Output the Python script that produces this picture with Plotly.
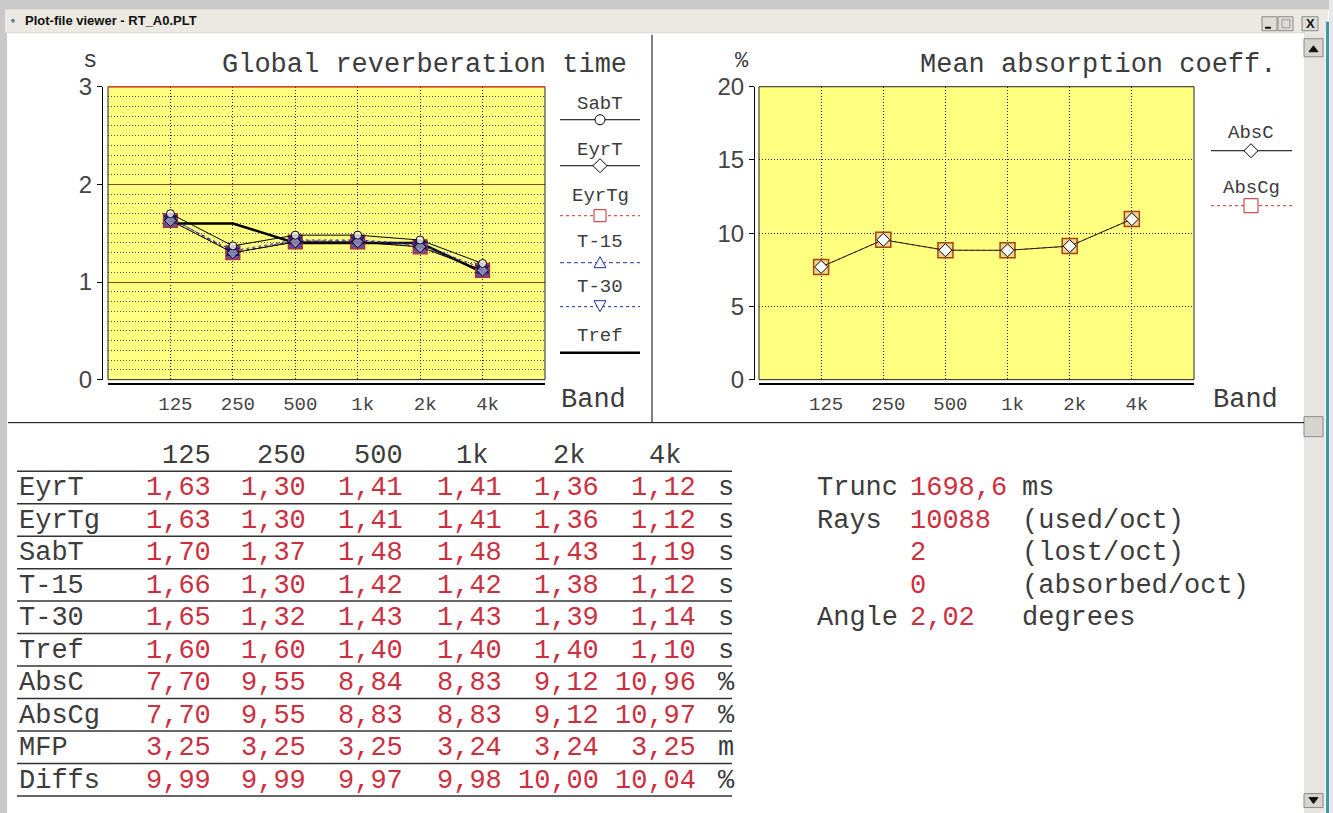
import plotly.graph_objects as go

W, H = 1333, 813

# ---------------- data ----------------
bands = ["125", "250", "500", "1k", "2k", "4k"]
sabt = [1.70, 1.37, 1.48, 1.48, 1.43, 1.19]
eyrt = [1.63, 1.30, 1.41, 1.41, 1.36, 1.12]
eyrtg = [1.63, 1.30, 1.41, 1.41, 1.36, 1.12]
t15 = [1.66, 1.30, 1.42, 1.42, 1.38, 1.12]
t30 = [1.65, 1.32, 1.43, 1.43, 1.39, 1.14]
tref = [1.60, 1.60, 1.40, 1.40, 1.40, 1.10]
absc = [7.70, 9.55, 8.84, 8.83, 9.12, 10.96]
abscg = [7.70, 9.55, 8.83, 8.83, 9.12, 10.97]
mfp = [3.25, 3.25, 3.25, 3.24, 3.24, 3.25]
diffs = [9.99, 9.99, 9.97, 9.98, 10.00, 10.04]

row_names = ["EyrT", "EyrTg", "SabT", "T-15", "T-30", "Tref", "AbsC", "AbsCg", "MFP", "Diffs"]
row_series = [eyrt, eyrtg, sabt, t15, t30, tref, absc, abscg, mfp, diffs]
row_units = ["s", "s", "s", "s", "s", "s", "%", "%", "m", "%"]

info_labels = ["Trunc", "Rays", "", "", "Angle"]
info_values = ["1698,6", "10088", "2", "0", "2,02"]
info_units = ["ms", "(used/oct)", "(lost/oct)", "(absorbed/oct)", "degrees"]

window_title = "Plot-file viewer - RT_A0.PLT"

# ---------------- helpers ----------------
MONO = "Liberation Mono, Courier New, monospace"
SANS = "Liberation Sans, Arial, sans-serif"
GRAY = "#3c3c3c"
RED = "#cc3040"

# the captured page appears slightly squeezed vertically; map target pixels
VS, VOFF = 0.967, 12.25


def fx(x):
    return x / W


def fy(y):
    return 1 - ((y - VOFF) / VS) / H


shapes = []
annots = []


def rect(x0, y0, x1, y1, fill, line=None, lw=0, layer="below"):
    shapes.append(dict(type="rect", xref="paper", yref="paper",
                       x0=fx(x0), x1=fx(x1), y0=fy(y1), y1=fy(y0),
                       fillcolor=fill, line=dict(color=line or fill, width=lw),
                       layer=layer))


def seg(x0, y0, x1, y1, color, w=1, dash="solid", layer="above"):
    shapes.append(dict(type="line", xref="paper", yref="paper",
                       x0=fx(x0), x1=fx(x1), y0=fy(y0), y1=fy(y1),
                       line=dict(color=color, width=w, dash=dash), layer=layer))


def poly(pts, fill, line, lw=1):
    p = "M " + " L ".join(f"{fx(a):.5f},{fy(b):.5f}" for a, b in pts) + " Z"
    shapes.append(dict(type="path", xref="paper", yref="paper", path=p,
                       fillcolor=fill, line=dict(color=line, width=lw), layer="above"))


def text(x, y, s, size=27, color=GRAY, family=MONO, xa="left", ya="middle"):
    annots.append(dict(x=fx(x), y=fy(y), xref="paper", yref="paper", text=s,
                       showarrow=False, xanchor=xa, yanchor=ya,
                       font=dict(family=family, size=size, color=color)))


def fmt(v, nd=2):
    return f"{v:.{nd}f}".replace(".", ",")


# ---------------- window chrome ----------------
rect(0, -20, W, 8, "#c9c9c9")
rect(0, -20, 7, H + 20, "#c9c9c9")
rect(5, 8, 1328, 31, "#ebe9e1")
seg(5, 31, 1305, 31, "#d8d6ce", 1, layer="below")
text(23, 19, "<b>" + window_title + "</b>", 13, "#111", SANS)
shapes.append(dict(type="circle", xref="paper", yref="paper", x0=fx(11), x1=fx(15),
                   y0=fy(21), y1=fy(17), fillcolor="#5a8a9a", line=dict(width=0)))
for bx0, bx1 in [(1262, 1277), (1278, 1293), (1302, 1318)]:
    rect(bx0, 15, bx1, 29, "#dedcd6", "#8a8a8a", 1)
seg(1265, 26, 1271, 26, "#111", 2)
rect(1282, 18, 1290, 26, "rgba(0,0,0,0)", "#999", 1, layer="above")
text(1310, 22, "<b>X</b>", 13, "#111", SANS, "center")
# scrollbar
rect(1304, 31, 1325, H + 20, "#e7e5e0")
rect(1304, 37, 1323, 55, "#d6d4ce", "#8a8a8a", 1)
poly([(1309, 50), (1318, 50), (1313.5, 44)], "#111", "#111")
rect(1304, 415, 1323, 435, "#d6d4ce", "#8a8a8a", 1)
rect(1304, 792, 1323, 806, "#d6d4ce", "#8a8a8a", 1)
poly([(1309, 796), (1318, 796), (1313.5, 802)], "#111", "#111")
rect(1326, 20, 1329, H + 20, "#3c9aa5")
rect(1329, -20, W, H + 20, "#e8e8e8")

# separators
seg(652, 33, 652, 421, "#000", 1)
seg(8, 421, 1304, 421, "#000", 1)

# ---------------- plots ----------------
fig = go.Figure()

fig.add_trace(go.Scatter(x=bands, y=tref, mode="lines", line=dict(color="#000", width=2.5),
                         xaxis="x", yaxis="y", hoverinfo="skip"))
fig.add_trace(go.Scatter(x=bands, y=eyrtg, mode="lines+markers",
                         line=dict(color="#d03030", width=1, dash="dot"),
                         marker=dict(symbol="square", size=14, color="#6a4c9c",
                                     line=dict(color="#c02828", width=1.2)),
                         xaxis="x", yaxis="y", hoverinfo="skip"))
fig.add_trace(go.Scatter(x=bands, y=t15, mode="lines+markers",
                         line=dict(color="#2030a0", width=1, dash="4px,3px"),
                         marker=dict(symbol="triangle-up", size=11, color="#3a2ca0",
                                     line=dict(color="#1a1a80", width=1)),
                         xaxis="x", yaxis="y", hoverinfo="skip"))
fig.add_trace(go.Scatter(x=bands, y=t30, mode="lines+markers",
                         line=dict(color="#2030a0", width=1, dash="dot"),
                         marker=dict(symbol="triangle-down", size=11, color="#2f2290",
                                     line=dict(color="#1a1a80", width=1)),
                         xaxis="x", yaxis="y", hoverinfo="skip"))
fig.add_trace(go.Scatter(x=bands, y=eyrt, mode="lines+markers",
                         line=dict(color="#000", width=1),
                         marker=dict(symbol="diamond", size=9, color="rgba(255,255,255,0.45)",
                                     line=dict(color="#000", width=1)),
                         xaxis="x", yaxis="y", hoverinfo="skip"))
fig.add_trace(go.Scatter(x=bands, y=sabt, mode="lines+markers",
                         line=dict(color="#000", width=1),
                         marker=dict(symbol="circle", size=8, color="rgba(255,255,255,0.75)",
                                     line=dict(color="#000", width=1)),
                         xaxis="x", yaxis="y", hoverinfo="skip"))

fig.add_trace(go.Scatter(x=bands, y=abscg, mode="lines+markers",
                         line=dict(color="#c03020", width=1, dash="dot"),
                         marker=dict(symbol="square", size=15, color="#ecd890",
                                     line=dict(color="#a8440c", width=1.5)),
                         xaxis="x2", yaxis="y2", hoverinfo="skip"))
fig.add_trace(go.Scatter(x=bands, y=absc, mode="lines+markers",
                         line=dict(color="#2a1a10", width=1),
                         marker=dict(symbol="diamond", size=10, color="#fff",
                                     line=dict(color="#000", width=1)),
                         xaxis="x2", yaxis="y2", hoverinfo="skip"))

xcommon = dict(type="category", range=[-1, 6], anchor="free", position=fy(382),
               showline=True, linecolor="#000", linewidth=2, ticks="",
               showgrid=True, gridcolor="#222", griddash="1px,2px", gridwidth=1,
               tickfont=dict(family=MONO, size=19, color="#444"),
               ticklabelshift=5, ticklabelstandoff=3, fixedrange=True)

fig.update_layout(
    width=W, height=H, margin=dict(l=0, r=0, t=0, b=0),
    paper_bgcolor="#ffffff", plot_bgcolor="#ffff80", showlegend=False,
    xaxis=dict(domain=[fx(108), fx(545)], **xcommon),
    xaxis2=dict(domain=[fx(759), fx(1194)], **xcommon),
    yaxis=dict(domain=[fy(378), fy(85)], range=[0, 3], anchor="free", position=fx(102),
               tick0=0, dtick=1, showline=True, linecolor="#000", linewidth=1,
               ticks="outside", ticklen=5, tickcolor="#000",
               tickfont=dict(family=SANS, size=24, color="#444"),
               showgrid=True, gridcolor="#8a4514", gridwidth=1, zeroline=False,
               minor=dict(tick0=0, dtick=0.1, showgrid=True, gridcolor="#505050",
                          griddash="1px,2px", gridwidth=1, ticks=""),
               fixedrange=True),
    yaxis2=dict(domain=[fy(378), fy(85)], range=[0, 20], anchor="free", position=fx(754),
                tick0=0, dtick=5, showline=True, linecolor="#000", linewidth=1,
                ticks="outside", ticklen=5, tickcolor="#000",
                tickfont=dict(family=SANS, size=24, color="#444"),
                showgrid=True, gridcolor="#222", griddash="1px,2px", gridwidth=1,
                zeroline=False, fixedrange=True),
)

for xr, yr in [("x", "y"), ("x2", "y2")]:
    shapes.append(dict(type="rect", xref=f"{xr} domain", yref=f"{yr} domain",
                       x0=0, x1=1, y0=0, y1=1, line=dict(color="#222", width=1),
                       fillcolor="rgba(0,0,0,0)", layer="above"))
shapes.append(dict(type="line", xref="x domain", yref="y domain", x0=0, x1=1, y0=1, y1=1,
                   line=dict(color="#e0452a", width=1.5), layer="above"))

# titles / units
text(220, 63, "Global reverberation time", 27)
text(90, 74, "s", 24, xa="center", ya="bottom")
text(593, 398, "Band", 27, xa="center")
text(918, 63, "Mean absorption coeff.", 27)
text(742, 74, "%", 22, xa="center", ya="bottom")
text(1245, 398, "Band", 27, xa="center")

# left legend
LX0, LX1, LXC = 560, 640, 600
leg_left = [("SabT", 102, 118), ("EyrT", 148, 164), ("EyrTg", 194, 214),
            ("T-15", 240, 261), ("T-30", 285, 305), ("Tref", 334, 351)]
for name, ty, ly in leg_left:
    text(LXC, ty, name, 19, xa="center")
seg(LX0, 118, LX1, 118, "#000", 1)
shapes.append(dict(type="circle", xref="paper", yref="paper", x0=fx(LXC - 5), x1=fx(LXC + 5),
                   y0=fy(123), y1=fy(113), fillcolor="#fff", line=dict(color="#000", width=1),
                   layer="above"))
seg(LX0, 164, LX1, 164, "#000", 1)
poly([(LXC, 157), (LXC + 7, 164), (LXC, 171), (LXC - 7, 164)], "#fff", "#000")
seg(LX0, 214, LX1, 214, "#d03030", 1, "dot")
rect(LXC - 6, 208, LXC + 6, 220, "#fff", "#c02828", 1, layer="above")
seg(LX0, 261, LX1, 261, "#2030a0", 1, "4px,3px")
poly([(LXC - 6, 266), (LXC + 6, 266), (LXC, 255)], "#fff", "#2030a0")
seg(LX0, 305, LX1, 305, "#2030a0", 1, "dot")
poly([(LXC - 6, 299), (LXC + 6, 299), (LXC, 310)], "#fff", "#2030a0")
seg(LX0, 351, LX1, 351, "#000", 2.5)

# right legend
RX0, RX1, RXC = 1211, 1292, 1251
text(RXC, 131, "AbsC", 19, xa="center")
seg(RX0, 149, RX1, 149, "#000", 1)
poly([(RXC, 142), (RXC + 7, 149), (RXC, 156), (RXC - 7, 149)], "#fff", "#000")
text(RXC, 186, "AbsCg", 19, xa="center")
seg(RX0, 204, RX1, 204, "#d03030", 1, "dot")
rect(RXC - 7, 197, RXC + 7, 211, "#fff", "#c02828", 1, layer="above")

# ---------------- table ----------------
col_right = [213, 308, 405, 504, 601, 698]
hdr_right = [213, 308, 405, 490, 587, 683]
ROW0, DY = 454, 32.5
for i, b in enumerate(bands):
    text(hdr_right[i], ROW0, b, 27, xa="right")
seg(17, ROW0 + 15.5, 732, ROW0 + 15.5, "#333", 1.5)
for r, (name, vals, unit) in enumerate(zip(row_names, row_series, row_units)):
    y = ROW0 + DY * (r + 1)
    text(17, y, name, 27)
    for i, v in enumerate(vals):
        text(col_right[i], y, fmt(v), 27, RED, xa="right")
    text(716, y, unit, 27)
    seg(17, y + 15.5, 732, y + 15.5, "#333", 1.5)

for r in range(5):
    y = ROW0 + DY * (r + 1)
    if info_labels[r]:
        text(815, y, info_labels[r], 27)
    text(908, y, info_values[r], 27, RED)
    text(1020, y, info_units[r], 27)

fig.update_layout(shapes=shapes, annotations=annots)

fig.write_html("out.html", config={"displayModeBar": False, "staticPlot": True},
               post_script="document.body.style.margin='0';document.body.style.overflow='hidden';")
